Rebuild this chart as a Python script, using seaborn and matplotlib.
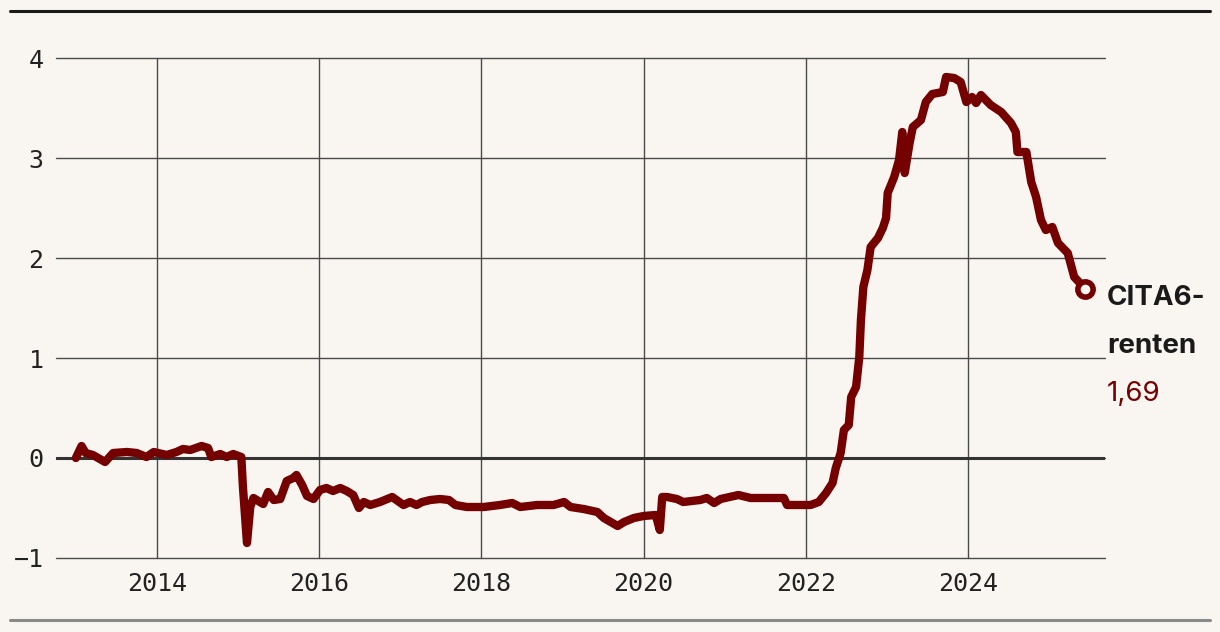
import matplotlib.pyplot as plt
import numpy as np
import pandas as pd
import seaborn as sns
from matplotlib.lines import Line2D

# CITA6 rente (decimal year, percent)
years = [
    2013.00, 2013.07, 2013.12, 2013.21, 2013.36, 2013.46, 2013.63, 2013.75, 2013.87, 2013.96,
    2014.12, 2014.24, 2014.32, 2014.41, 2014.55, 2014.63, 2014.67, 2014.78, 2014.86, 2014.94,
    2015.04, 2015.06, 2015.11, 2015.15, 2015.19, 2015.31, 2015.37, 2015.44, 2015.52, 2015.60,
    2015.68, 2015.72, 2015.79, 2015.85, 2015.93, 2016.01, 2016.09, 2016.17, 2016.26, 2016.34,
    2016.42, 2016.49, 2016.55, 2016.63, 2016.75, 2016.90, 2017.04, 2017.12, 2017.20, 2017.27,
    2017.37, 2017.49, 2017.60, 2017.68, 2017.82, 2018.03, 2018.23, 2018.38, 2018.48, 2018.69,
    2018.89, 2019.02, 2019.10, 2019.26, 2019.43, 2019.51, 2019.68, 2019.76, 2019.88, 2020.00,
    2020.15, 2020.20, 2020.23, 2020.29, 2020.41, 2020.49, 2020.70, 2020.78, 2020.87, 2020.95,
    2021.17, 2021.32, 2021.73, 2021.77, 2022.06, 2022.16, 2022.25, 2022.33, 2022.37, 2022.43,
    2022.47, 2022.53, 2022.56, 2022.62, 2022.66, 2022.68, 2022.71, 2022.76, 2022.80, 2022.89,
    2022.95, 2022.99, 2023.01, 2023.09, 2023.15, 2023.19, 2023.22, 2023.28, 2023.32, 2023.42,
    2023.48, 2023.56, 2023.69, 2023.73, 2023.83, 2023.91, 2023.98, 2024.05, 2024.10, 2024.16,
    2024.28, 2024.41, 2024.53, 2024.59, 2024.61, 2024.72, 2024.78, 2024.84, 2024.90, 2024.96,
    2025.04, 2025.11, 2025.23, 2025.31, 2025.38, 2025.44,
]
rates = [
    0.00, 0.12, 0.05, 0.03, -0.04, 0.05, 0.06, 0.05, 0.01, 0.06,
    0.03, 0.06, 0.09, 0.08, 0.12, 0.10, 0.01, 0.04, 0.01, 0.04,
    0.01, -0.29, -0.85, -0.49, -0.40, -0.46, -0.34, -0.42, -0.41, -0.23,
    -0.20, -0.17, -0.27, -0.38, -0.41, -0.32, -0.30, -0.33, -0.30, -0.33,
    -0.37, -0.50, -0.44, -0.47, -0.44, -0.39, -0.47, -0.44, -0.47, -0.44,
    -0.42, -0.41, -0.42, -0.47, -0.49, -0.49, -0.47, -0.45, -0.49, -0.47,
    -0.47, -0.44, -0.49, -0.51, -0.54, -0.60, -0.68, -0.64, -0.60, -0.58,
    -0.57, -0.72, -0.39, -0.39, -0.41, -0.44, -0.42, -0.40, -0.45, -0.41,
    -0.37, -0.40, -0.40, -0.47, -0.47, -0.44, -0.35, -0.25, -0.10, 0.05,
    0.28, 0.33, 0.61, 0.71, 1.01, 1.38, 1.71, 1.88, 2.11, 2.20,
    2.30, 2.40, 2.65, 2.81, 2.98, 3.26, 2.85, 3.15, 3.31, 3.38,
    3.56, 3.64, 3.66, 3.81, 3.80, 3.76, 3.56, 3.61, 3.55, 3.63,
    3.53, 3.46, 3.35, 3.26, 3.06, 3.06, 2.76, 2.61, 2.38, 2.28,
    2.31, 2.15, 2.05, 1.81, 1.75, 1.69,
]
year_ticks = [2014, 2016, 2018, 2020, 2022, 2024]
rate_ticks = [-1, 0, 1, 2, 3, 4]
name_lines = ["CITA6-", "renten"]
last_label = "1,69"

bg = "#f9f6f2"
red = "#750000"
grid = "#4a4a4a"

sns.set_theme(style="white")
plt.rcParams["font.family"] = ["DejaVu Sans Mono", "DejaVu Sans"]

df = pd.DataFrame({"year": years, "rate": rates})

fig = plt.figure(figsize=(12.2, 6.32), dpi=100, facecolor=bg)
ax = fig.add_axes([0.0459, 0.1171, 0.8598, 0.7911])
ax.set_facecolor(bg)

sns.lineplot(data=df, x="year", y="rate", sort=False, color=red, linewidth=6, ax=ax, zorder=3)
line = ax.lines[0]
line.set_solid_joinstyle("round")
line.set_solid_capstyle("round")

# end marker
ax.plot(years[-1], rates[-1], "o", ms=11, mfc=bg, mec=red, mew=4, zorder=4)

ax.set_xlim(2012.755, 2025.689)
ax.set_ylim(-1, 4)
ax.set_xticks(year_ticks)
ax.set_yticks(rate_ticks)
ax.set_xticklabels([str(y) for y in year_ticks])
ax.set_yticklabels([str(v).replace("-", "\u2212") for v in rate_ticks])
ax.tick_params(axis="both", length=0, labelsize=18, labelcolor="#222222")
ax.tick_params(axis="y", pad=9)
ax.tick_params(axis="x", pad=10)
ax.grid(True, color=grid, linewidth=1.0)
for gl in ax.get_xgridlines() + ax.get_ygridlines():
    gl.set_clip_on(False)
ax.axhline(0, color="#333333", linewidth=2.2, zorder=2)
for s in ax.spines.values():
    s.set_visible(False)
ax.set_xlabel("")
ax.set_ylabel("")

# direct label, one line at a time
for i, txt in enumerate(name_lines):
    ax.annotate(txt, (years[-1], rates[-1]), xytext=(16, -11.5 - 34.5 * i),
                textcoords="offset points", ha="left", va="baseline",
                fontsize=20, fontweight="bold", family=["Inter", "DejaVu Sans"],
                color="#1a1a1a")
ax.annotate(last_label, (years[-1], rates[-1]), xytext=(16, -80.5),
            textcoords="offset points", ha="left", va="baseline",
            fontsize=20, family=["Inter", "DejaVu Sans"], color=red)

# frame rules
fig.add_artist(Line2D([10 / 1220, 1210 / 1220], [1 - 11 / 632] * 2, color="#1a1a1a", linewidth=2.2))
fig.add_artist(Line2D([10 / 1220, 1210 / 1220], [1 - 620 / 632] * 2, color="#8a8a8a", linewidth=2.2))

fig.savefig("out.png", dpi=100, facecolor=bg)
